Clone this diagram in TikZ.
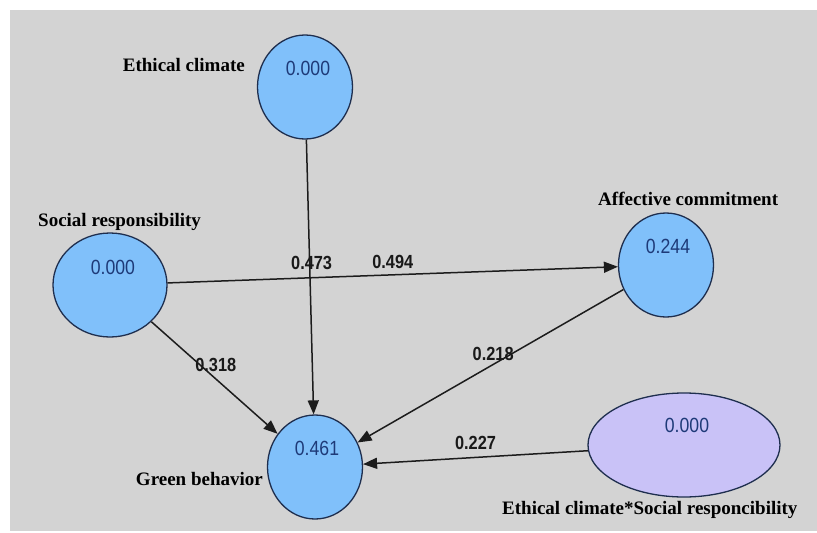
\documentclass[tikz,border=0pt]{standalone}
\usepackage{fontspec}
\setmainfont{Liberation Serif}
\newfontfamily\numfont[FakeStretch=0.86]{Liberation Sans}
\usetikzlibrary{shapes.geometric,arrows.meta}
\definecolor{panel}{HTML}{D3D3D3}
\definecolor{blobblue}{HTML}{80C0FA}
\definecolor{bloblav}{HTML}{C9C2F7}
\definecolor{valblue}{HTML}{1E3A78}
\definecolor{edgecol}{HTML}{1C1C1C}
\definecolor{rimcol}{HTML}{1E2E4E}
\tikzset{
  latent/.style={ellipse, draw=rimcol, line width=1.3pt, fill=blobblue, inner sep=0pt, minimum width=95pt, minimum height=104pt},
  inter/.style={latent, fill=bloblav, minimum width=192pt},
  valtext/.style={font=\numfont\fontsize{20.5}{22}\selectfont, text=valblue},
  namelbl/.style={font=\bfseries\fontsize{19}{21}\selectfont, text=black, inner sep=0pt},
  coef/.style={font=\numfont\bfseries\fontsize{19}{21}\selectfont, text=black!90, inner sep=0pt},
  path/.style={draw=edgecol, line width=1.5pt, -{Triangle[length=14pt,width=11pt]}}
}
\begin{document}
\begin{tikzpicture}[x=1pt,y=-1pt]
\useasboundingbox (0,0) rectangle (817,533);
\fill[white] (0,0) rectangle (817,533);
\fill[panel] (10,10) rectangle (817,531);

\node[latent, label={[valtext,xshift=3pt,yshift=19pt]center:0.000}] (ec) at (305,87) {};
\node[latent, minimum width=114pt, label={[valtext,xshift=3pt,yshift=18pt]center:0.000}] (sr) at (110,285) {};
\node[latent, label={[valtext,xshift=2pt,yshift=19pt]center:0.244}] (ac) at (666,265) {};
\node[latent, label={[valtext,xshift=2pt,yshift=19pt]center:0.461}] (gb) at (315,467) {};
\node[inter, label={[valtext,xshift=3pt,yshift=20pt]center:0.000}] (ix) at (684,445) {};

\node[namelbl, anchor=base east] (ecl) at (245,71) {Ethical climate};
\node[namelbl, anchor=base west] (srl) at (38,226) {Social responsibility};
\node[namelbl, anchor=base west] (acl) at (598,205) {Affective commitment};
\node[namelbl, anchor=base east] (gbl) at (263,485) {Green behavior};
\node[namelbl, anchor=base west] (ixl) at (502,514) {Ethical climate*Social responcibility};

\draw[path] (ec) -- node[coef, pos=0.45, xshift=2pt] {0.473} (gb);
\draw[path] (sr) -- node[coef, pos=0.5, yshift=13pt] {0.494} (ac);
\draw[path] (sr) -- node[coef, pos=0.51, yshift=14pt] {0.318} (gb);
\draw[path] (ac) -- node[coef, pos=0.49, yshift=11pt] {0.218} (gb);
\draw[path] (ix) -- node[coef, pos=0.5, yshift=14pt] {0.227} (gb);
\end{tikzpicture}
\end{document}
